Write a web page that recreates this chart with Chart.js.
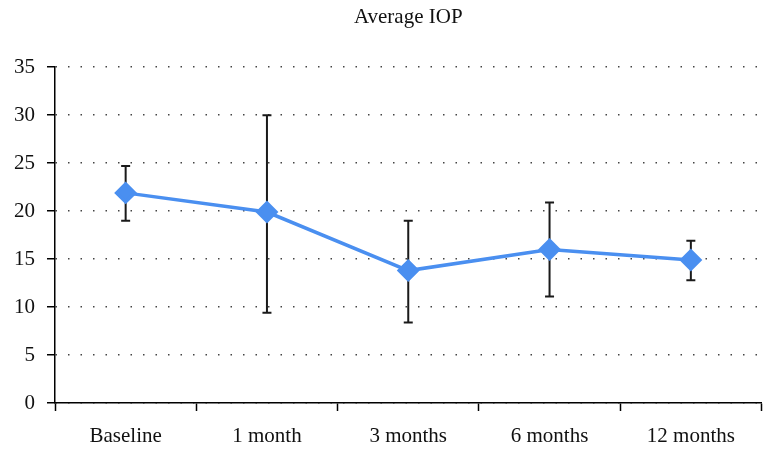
<!DOCTYPE html>
<html>
<head>
<meta charset="utf-8">
<title>Average IOP</title>
<script src="https://cdn.jsdelivr.net/npm/chart.js@4.4.0/dist/chart.umd.min.js"></script>
<style>
  body { margin: 0; background: #fff; }
  #wrap { width: 774px; height: 451px; }
</style>
</head>
<body>
<div id="wrap"><canvas id="grafica" width="774" height="451"></canvas></div>
<script>
// Datos
const categorias = ['Baseline', '1 month', '3 months', '6 months', '12 months'];
const promedioIOP = [21.9, 19.9, 13.8, 16.0, 14.9];
const errorSuperior = [24.7, 30.0, 19.0, 20.9, 16.9];
const errorInferior = [19.0, 9.4, 8.4, 11.1, 12.8];
const ticksY = [0, 5, 10, 15, 20, 25, 30, 35];

const fuente = '"Liberation Serif", "DejaVu Serif", serif';

// barras de error, dibujadas con las escalas del grafico
const barrasError = {
  id: 'barrasError',
  beforeDatasetsDraw(chart) {
    const ctx = chart.ctx;
    const x = chart.scales.x;
    const y = chart.scales.y;
    ctx.save();
    ctx.strokeStyle = '#1a1a1a';
    ctx.lineWidth = 2;
    categorias.forEach((c, i) => {
      const px = x.getPixelForValue(i);
      const yTop = y.getPixelForValue(errorSuperior[i]);
      const yBot = y.getPixelForValue(errorInferior[i]);
      ctx.beginPath();
      ctx.moveTo(px, yTop);
      ctx.lineTo(px, yBot);
      ctx.moveTo(px - 4.5, yTop);
      ctx.lineTo(px + 4.5, yTop);
      ctx.moveTo(px - 4.5, yBot);
      ctx.lineTo(px + 4.5, yBot);
      ctx.stroke();
    });
    ctx.restore();
  }
};

new Chart(document.getElementById('grafica'), {
  type: 'line',
  data: {
    labels: categorias,
    datasets: [{
      label: 'Average IOP',
      data: promedioIOP,
      borderColor: '#4a8ff0',
      backgroundColor: '#4a8ff0',
      borderWidth: 3.5,
      pointStyle: 'rectRot',
      pointRadius: 9,
      pointHoverRadius: 9,
      tension: 0
    }]
  },
  options: {
    responsive: false,
    animation: false,
    layout: { padding: { left: 0, right: 7, top: 0, bottom: 0 } },
    plugins: {
      legend: { display: false },
      tooltip: { enabled: false },
      title: {
        display: true,
        fullSize: false,
        text: 'Average IOP',
        color: '#111',
        font: { family: fuente, size: 21, weight: 'normal' },
        padding: { top: 5, bottom: 37 }
      }
    },
    scales: {
      x: {
        offset: true,
        afterFit(scale) { scale.height = 48; },
        border: { display: true, color: '#000', width: 1.5 },
        grid: {
          offset: true,
          drawOnChartArea: false,
          drawTicks: true,
          tickLength: 8,
          tickColor: '#000',
          tickWidth: 1.5
        },
        ticks: {
          color: '#111',
          padding: 13,
          font: { family: fuente, size: 21 }
        }
      },
      y: {
        min: 0,
        max: 35,
        afterFit(scale) { scale.width = 55; },
        afterBuildTicks(scale) { scale.ticks = ticksY.map(v => ({ value: v })); },
        border: { display: true, color: '#000', width: 1.5, dash: [1.5, 11] },
        grid: {
          color: '#444',
          lineWidth: 1.5,
          drawTicks: true,
          tickLength: 8,
          tickColor: '#000',
          tickWidth: 1.5,
          tickBorderDash: []
        },
        ticks: {
          color: '#111',
          padding: 12,
          font: { family: fuente, size: 21 }
        }
      }
    }
  },
  plugins: [barrasError]
});
</script>
</body>
</html>
